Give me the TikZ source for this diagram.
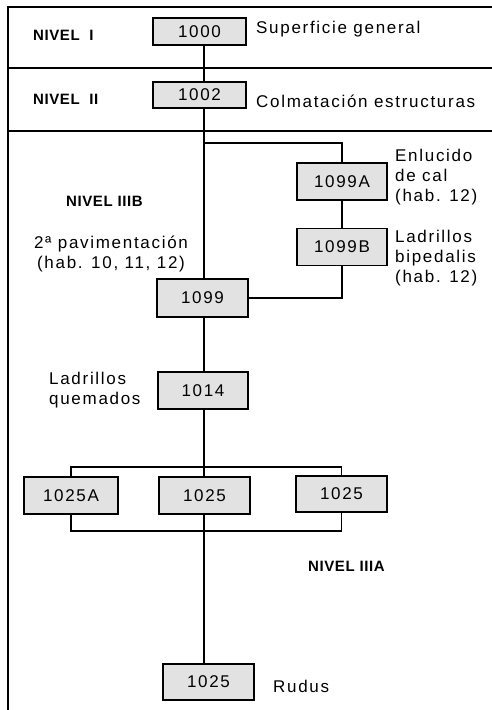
\documentclass[tikz,border=0pt]{standalone}
\usepackage{fontspec}
\setmainfont{Liberation Sans}
\newfontfamily\diagfont[LetterSpace=10]{Liberation Sans}
\newfontfamily\levelfont[LetterSpace=4]{Liberation Sans}
\usepackage{xcolor}
\usetikzlibrary{positioning, calc}
\definecolor{boxgray}{RGB}{226,226,226}

\begin{document}
\begin{tikzpicture}[x=1pt, y=-1pt,
    unit/.style={rectangle, draw, fill=boxgray, line width=1.2pt, minimum width=91pt,
        minimum height=37pt, inner sep=0pt, font=\diagfont\fontsize{17}{20}\selectfont},
    note/.style={inner sep=0pt, align=left, font=\diagfont\fontsize{17}{20}\selectfont},
    level/.style={inner sep=0pt, font=\levelfont\bfseries\fontsize{15}{17}\selectfont},
    link/.style={line width=1.4pt}]
    \useasboundingbox (0,0) rectangle (492,710);
    % frame
    \draw[line width=1.5pt] (492,7) -| (8,710);
    \draw[line width=1.5pt] (8,68) -- (492,68);
    \draw[line width=1.5pt] (8,131) -- (492,131);
    % units
    \node[unit, minimum width=93pt, minimum height=27pt] (u1000) at (199.5,31.5) {1000};
    \node[unit, minimum width=93pt, minimum height=26pt] (u1002) at (199.5,95) {1002};
    \node[unit, minimum width=90pt] (u1099A) at (342,181.5) {1099A};
    \node[unit, minimum width=90pt] (u1099B) at (342,247) {1099B};
    \node[unit, minimum height=38pt] (u1099) at (202.5,298) {1099};
    \node[unit, minimum width=90pt] (u1014) at (203,390.5) {1014};
    \node[unit, minimum width=94pt] (u1025A) at (71,495.5) {1025A};
    \node[unit] (u1025) at (204.5,495.5) {1025};
    \node[unit, minimum height=36pt] (u1025r) at (341.5,494) {1025};
    \node[unit, minimum height=36pt] (u1025b) at (208.5,682) {1025};
    % spine
    \coordinate (spine) at (204,0);
    \coordinate (fork) at (204,143);
    \draw[link] (u1000.south -| spine) -- (u1002.north -| spine);
    \draw[link] (u1002.south -| spine) -- (u1099.north -| spine);
    \draw[link] (u1099.south -| spine) -- (u1014.north -| spine);
    \draw[link] (u1014.south -| spine) -- (u1025.north -| spine);
    \draw[link] (u1025.south -| spine) -- (u1025b.north -| spine);
    % side branch
    \draw[link] (fork) -| (u1099A.north);
    \draw[link] (u1099A.south) -- (u1099B.north);
    \draw[link] (u1099B.south) |- (u1099.east);
    % 1025 group
    \draw[link, line width=1.6pt] (u1025A.north) -- ++(0,-9.5) -| (u1025r.north);
    \draw[link, line width=1.6pt] (u1025A.south) -- ++(0,16.5) -| (u1025r.south);
    % levels
    \node[level, anchor=base west] (lvI) at (33,40) {NIVEL\ \ I};
    \node[level, anchor=base west] (lvII) at (33,104) {NIVEL\ \ II};
    \node[level, anchor=base west] (lvIIIB) at (66,206) {NIVEL IIIB};
    \node[level, anchor=base west] (lvIIIA) at (308,571) {NIVEL IIIA};
    % notes
    \node[note, anchor=base west] (tSup) at (256,33) {Superficie general};
    \node[note, anchor=base west] (tColm) at (256,107) {Colmatación estructuras};
    \node[note, anchor=north west] (tEnl) at (395,149) {Enlucido\\de cal\\(hab. 12)};
    \node[note, anchor=north west] (tBip) at (395,230) {Ladrillos\\bipedalis\\(hab. 12)};
    \node[note, align=center, anchor=north] (tPav) at (111,236) {2ª pavimentación\\(hab. 10, 11, 12)};
    \node[note, anchor=north west] (tQue) at (49,372) {Ladrillos\\quemados};
    \node[note, anchor=base west] (tRud) at (273,692) {Rudus};
\end{tikzpicture}
\end{document}
